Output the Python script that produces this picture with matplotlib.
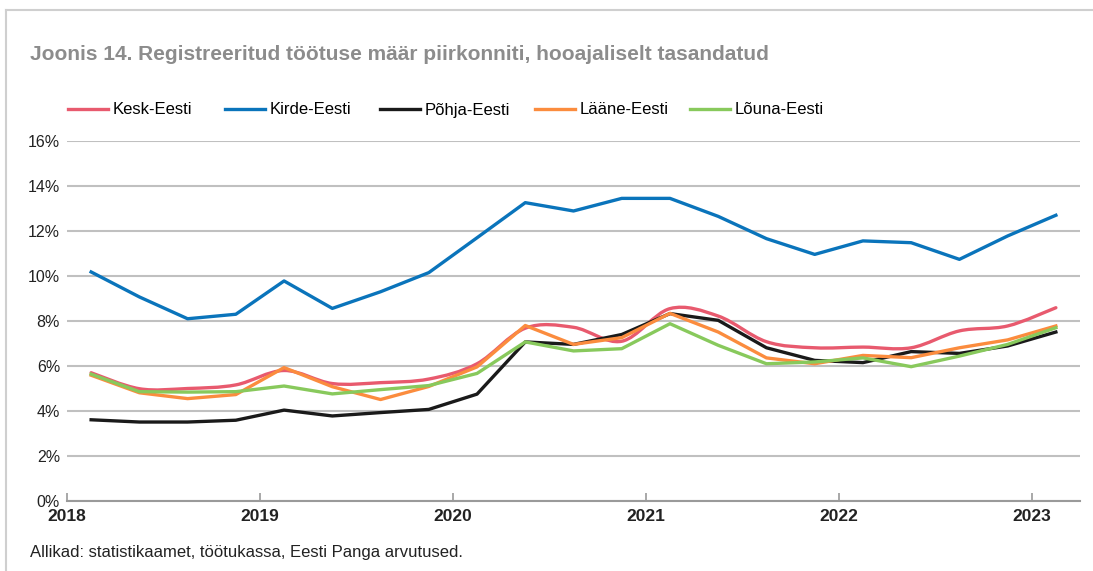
import matplotlib.pyplot as plt
import numpy as np
from matplotlib.path import Path
from matplotlib.patches import PathPatch
from matplotlib.lines import Line2D

plt.rcParams['font.family'] = ['Liberation Sans', 'DejaVu Sans']

# quarterly data, 2018 Q1 .. 2023 Q1
years = ['2018', '2019', '2020', '2021', '2022', '2023']
kesk = [5.70, 4.99, 5.00, 5.16, 5.80, 5.22, 5.26, 5.42, 6.10, 7.68, 7.72,
        7.10, 8.55, 8.22, 7.08, 6.81, 6.84, 6.81, 7.56, 7.78, 8.59]
kirde = [10.18, 9.07, 8.10, 8.30, 9.78, 8.56, 9.30, 10.15, 11.70, 13.26, 12.89,
         13.45, 13.45, 12.65, 11.66, 10.96, 11.56, 11.48, 10.74, 11.78, 12.70]
pohja = [3.61, 3.51, 3.51, 3.59, 4.04, 3.78, 3.93, 4.07, 4.75, 7.07, 6.96,
         7.40, 8.33, 8.03, 6.81, 6.25, 6.15, 6.64, 6.56, 6.89, 7.51]
laane = [5.59, 4.81, 4.55, 4.73, 5.93, 5.08, 4.51, 5.09, 5.96, 7.80, 6.96,
         7.26, 8.34, 7.51, 6.36, 6.10, 6.47, 6.37, 6.81, 7.16, 7.78]
louna = [5.64, 4.86, 4.84, 4.86, 5.11, 4.76, 4.95, 5.13, 5.67, 7.07, 6.67,
         6.77, 7.88, 6.92, 6.10, 6.18, 6.36, 5.97, 6.44, 6.96, 7.70]

names = ['Kesk-Eesti', 'Kirde-Eesti', 'Põhja-Eesti', 'Lääne-Eesti', 'Lõuna-Eesti']
colors = ['#e85a6e', '#0a74bb', '#1a1a1a', '#fb8c3e', '#88c95c']

W, H = 1093, 571
fig = plt.figure(figsize=(W / 100, H / 100), dpi=100)
ax = fig.add_axes([67 / W, (H - 501) / H, (1080 - 67) / W, (501 - 141) / H])

x = np.arange(len(kesk))
lw = 2.4


def smooth_path(xs, ys):
    pts = np.column_stack([xs, ys]).astype(float)
    n = len(pts)
    verts = [pts[0]]
    codes = [Path.MOVETO]
    for i in range(n - 1):
        p0 = pts[i - 1] if i > 0 else pts[i]
        p1 = pts[i]
        p2 = pts[i + 1]
        p3 = pts[i + 2] if i + 2 < n else pts[i + 1]
        verts += [p1 + (p2 - p0) / 6, p2 - (p3 - p1) / 6, p2]
        codes += [Path.CURVE4] * 3
    return Path(verts, codes)


ax.add_patch(PathPatch(smooth_path(x, kesk), fill=False, edgecolor=colors[0],
                       lw=lw, capstyle='round', joinstyle='round', zorder=3))
for vals, c in zip([kirde, pohja, laane, louna], colors[1:]):
    ax.plot(x, vals, color=c, lw=lw, solid_joinstyle='round', zorder=3)

ax.set_xlim(-0.5, len(kesk) - 0.5)
ax.set_ylim(0, 16)
ax.set_yticks(np.arange(0, 17, 2))
ax.set_yticklabels([f'{v}%' for v in range(0, 17, 2)], fontsize=11.5, color='#222222')
ax.yaxis.grid(True, color='#c0c0c0', lw=1.5)
ax.set_axisbelow(True)
ax.tick_params(axis='y', length=0, pad=5)

ax.set_xticks(np.arange(-0.5, len(kesk), 4))
ax.set_xticklabels(years, fontsize=12.5, fontweight='bold', color='#222222')
ax.tick_params(axis='x', direction='in', length=6, width=1.2, color='#9a9a9a', pad=6)

for s in ['top', 'right', 'left']:
    ax.spines[s].set_visible(False)
ax.spines['bottom'].set_color('#9a9a9a')
ax.spines['bottom'].set_linewidth(1.5)

# legend, one entry per column
leg_x = [68, 225, 380, 535, 690]
for name, c, lx in zip(names, colors, leg_x):
    h = Line2D([], [], color=c, lw=lw)
    lg = fig.legend(handles=[h], labels=[name], loc='center left',
                    bbox_to_anchor=(lx / W, (H - 110) / H), frameon=False,
                    fontsize=12, handlelength=2.4, handletextpad=0.3,
                    borderpad=0, borderaxespad=0)

fig.text(30 / W, (H - 55) / H, 'Joonis 14. Registreeritud töötuse määr piirkonniti, hooajaliselt tasandatud',
         fontsize=15, fontweight='bold', color='#8c8c8c', va='center', ha='left')
fig.text(30 / W, (H - 552) / H, 'Allikad: statistikaamet, töötukassa, Eesti Panga arvutused.',
         fontsize=12, color='#222222', va='center', ha='left')

# light frame at left and top
fig.add_artist(Line2D([6 / W, 6 / W], [0, (H - 10) / H], color='#cfcfcf', lw=1.5))
fig.add_artist(Line2D([6 / W, 1], [(H - 10) / H, (H - 10) / H], color='#cfcfcf', lw=1.5))

fig.savefig('out.png', dpi=100)
